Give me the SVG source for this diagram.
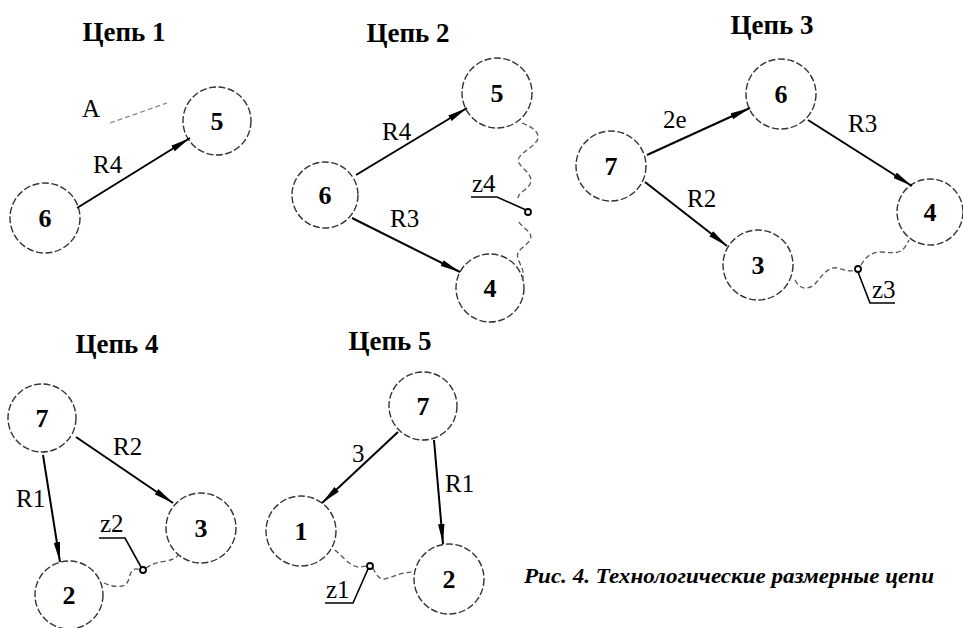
<svg xmlns="http://www.w3.org/2000/svg" width="963" height="628" viewBox="0 0 963 628">
<style>
.bg{fill:#fff}
.node circle{fill:none;stroke:#333;stroke-width:1.4;stroke-dasharray:7 2.5}
.node text{font-family:"Liberation Serif","Times New Roman","DejaVu Serif",serif;font-size:26px;font-weight:bold;text-anchor:middle;fill:#000}
.title{font-family:"Liberation Serif","Times New Roman","DejaVu Serif",serif;font-size:27px;font-weight:bold;text-anchor:middle;fill:#000}
.lbl{font-family:"Liberation Serif","Times New Roman","DejaVu Serif",serif;font-size:25px;fill:#000}
.arr{stroke:#000;stroke-width:2;fill:none;marker-end:url(#ah)}
.wave{stroke:#555;stroke-width:1.3;fill:none;stroke-dasharray:5 3}
.lead{stroke:#000;stroke-width:1.6;fill:none}
.pin{fill:#fff;stroke:#000;stroke-width:1.8}
.cap{font-family:"Liberation Serif","Times New Roman","DejaVu Serif",serif;font-size:22px;font-style:italic;font-weight:bold;fill:#000}
</style>
<defs>
<marker id="ah" viewBox="0 0 20 7" refX="20" refY="3.5" markerWidth="20" markerHeight="7" markerUnits="userSpaceOnUse" orient="auto">
<path d="M0,0.3 L20,3.5 L0,6.7 z" fill="#000"/>
</marker>
</defs>
<rect class="bg" x="0" y="0" width="963" height="628"/>

<g id="titles">
<text class="title" x="124" y="41">Цепь 1</text>
<text class="title" x="408" y="42">Цепь 2</text>
<text class="title" x="772" y="34">Цепь 3</text>
<text class="title" x="117" y="353">Цепь 4</text>
<text class="title" x="390" y="350">Цепь 5</text>
</g>

<!-- Chain 1 -->
<g id="c1-n5" class="node"><circle cx="217" cy="121" r="34"/><text x="217" y="130">5</text></g>
<g id="c1-n6" class="node"><circle cx="45" cy="218" r="35"/><text x="45" y="227">6</text></g>

<!-- Chain 2 -->
<g id="c2-n5" class="node"><circle cx="497" cy="93" r="35"/><text x="497" y="102">5</text></g>
<g id="c2-n6" class="node"><circle cx="325" cy="195" r="33"/><text x="325" y="204">6</text></g>
<g id="c2-n4" class="node"><circle cx="490" cy="288" r="34"/><text x="490" y="297">4</text></g>

<!-- Chain 3 -->
<g id="c3-n6" class="node"><circle cx="781" cy="94" r="35"/><text x="781" y="103">6</text></g>
<g id="c3-n7" class="node"><circle cx="611" cy="166" r="35"/><text x="611" y="175">7</text></g>
<g id="c3-n4" class="node"><circle cx="930" cy="212" r="33"/><text x="930" y="221">4</text></g>
<g id="c3-n3" class="node"><circle cx="758" cy="265" r="35"/><text x="758" y="274">3</text></g>

<!-- Chain 4 -->
<g id="c4-n7" class="node"><circle cx="42" cy="418" r="34"/><text x="42" y="427">7</text></g>
<g id="c4-n3" class="node"><circle cx="201" cy="528" r="35"/><text x="201" y="537">3</text></g>
<g id="c4-n2" class="node"><circle cx="69" cy="595" r="34"/><text x="69" y="604">2</text></g>

<!-- Chain 5 -->
<g id="c5-n7" class="node"><circle cx="423" cy="406" r="34"/><text x="423" y="415">7</text></g>
<g id="c5-n1" class="node"><circle cx="301" cy="531" r="35"/><text x="301" y="540">1</text></g>
<g id="c5-n2" class="node"><circle cx="449" cy="579" r="35"/><text x="449" y="588">2</text></g>

<g id="connectors">
<!-- chain 1 -->
<line class="arr" x1="77" y1="208" x2="190" y2="138"/>
<line class="wave" x1="110" y1="123" x2="167" y2="103" style="stroke:#888"/>
<text class="lbl" x="82" y="117">A</text>
<text class="lbl" x="93" y="173">R4</text>

<!-- chain 2 -->
<line class="arr" x1="356" y1="175" x2="467" y2="108"/>
<line class="arr" x1="352" y1="218" x2="460" y2="272"/>
<text class="lbl" x="382" y="140">R4</text>
<text class="lbl" x="390" y="227">R3</text>
<path class="wave" d="M522,123 C535,128 542,135 536,142 C530,150 515,155 519,163 C523,170 534,175 530,184 C527,190 518,193 518,198"/>
<path class="wave" d="M519,222 C522,228 534,232 530,240 C526,247 515,250 518,258 C520,266 526,272 522,280"/>
<polyline class="lead" points="471,197 497,197 526,210"/>
<circle class="pin" cx="528" cy="212" r="3"/>
<text class="lbl" x="472" y="192">z4</text>

<!-- chain 3 -->
<line class="arr" x1="647" y1="155" x2="750" y2="108"/>
<line class="arr" x1="808" y1="120" x2="912" y2="186"/>
<line class="arr" x1="645" y1="182" x2="727" y2="246"/>
<text class="lbl" x="663" y="128">2e</text>
<text class="lbl" x="848" y="132">R3</text>
<text class="lbl" x="687" y="207">R2</text>
<path class="wave" d="M795,280 C800,290 808,290 815,284 C822,276 828,266 838,268 C845,270 850,272 855,270"/>
<path class="wave" d="M861,265 C865,258 870,252 882,252 C893,253 900,254 905,247 C907,244 908,242 909,240"/>
<polyline class="lead" points="858,272 870,303 895,303"/>
<circle class="pin" cx="858" cy="269" r="3"/>
<text class="lbl" x="872" y="298">z3</text>

<!-- chain 4 -->
<line class="arr" x1="43" y1="455" x2="60" y2="562"/>
<line class="arr" x1="76" y1="437" x2="173" y2="503"/>
<text class="lbl" x="16" y="507">R1</text>
<text class="lbl" x="113" y="455">R2</text>
<path class="wave" d="M104,583 C110,586 118,588 125,585 C130,582 129,572 133,570 C136,568 138,569 140,570"/>
<path class="wave" d="M146,568 C152,564 158,562 166,561 C172,560 176,558 178,555"/>
<polyline class="lead" points="99,538 125,538 141,567"/>
<circle class="pin" cx="143" cy="570" r="3"/>
<text class="lbl" x="100" y="532">z2</text>

<!-- chain 5 -->
<line class="arr" x1="398" y1="432" x2="322" y2="503"/>
<line class="arr" x1="434" y1="440" x2="443" y2="544"/>
<text class="lbl" x="352" y="462">3</text>
<text class="lbl" x="445" y="492">R1</text>
<path class="wave" d="M335,550 C342,556 350,566 358,567 C362,567 364,566 367,566"/>
<path class="wave" d="M373,568 C376,575 380,580 385,579 C395,576 402,572 414,572"/>
<polyline class="lead" points="368,569 353,603 325,603"/>
<circle class="pin" cx="370" cy="566" r="3"/>
<text class="lbl" x="326" y="598">z1</text>
</g>

<text class="cap" x="524" y="583" textLength="410" lengthAdjust="spacingAndGlyphs">Рис. 4. Технологические размерные цепи</text>
</svg>
